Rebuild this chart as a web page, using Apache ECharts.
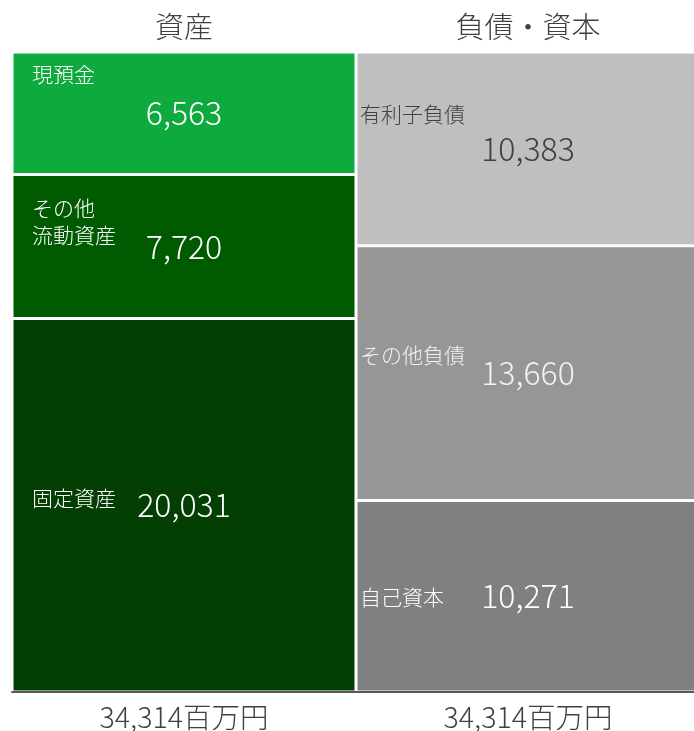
<!DOCTYPE html>
<html>
<head>
<meta charset="utf-8">
<script src="https://cdn.jsdelivr.net/npm/echarts@6/dist/echarts.min.js"></script>
<style>html,body{margin:0;padding:0;background:#fff}#c{width:694px;height:731px}</style>
</head>
<body>
<div id="c"></div>
<script>
// ---- data ----
const columns = ['資産', '負債・資本'];
const totalLabels = ['34,314百万円', '34,314百万円'];
const total = 34314;
// segments from bottom to top: [資産側, 負債・資本側]
const segNames = [
  ['固定資産', '自己資本'],
  ['その他\n流動資産', 'その他負債'],
  ['現預金', '有利子負債']
];
const segValues = [
  [20031, 10271],
  [7720, 13660],
  [6563, 10383]
];

// ---- styles (not data) ----
const segColors = [
  ['#033F03', '#808080'],
  ['#005A00', '#969696'],
  ['#0EAA3E', '#BFBFBF']
];
const textColors = [
  ['#FFFFFF', '#FFFFFF'],
  ['#FFFFFF', '#F2F2F2'],
  ['#FFFFFF', '#404040']
];
const nameOffsets = [
  [[20, -7], [4, 1]],
  [[20, -25], [4, -18]],
  [[20, -39], [4, -35]]
];
const FONT = '"Noto Sans CJK JP", "Noto Sans", sans-serif';

const fmt = v => v.toLocaleString('en-US');

const series = [];
segValues.forEach((vals, i) => {
  series.push({
    type: 'bar', stack: 'v', barWidth: '100%', barGap: '-100%', barCategoryGap: 0,
    data: vals.map((v, j) => ({
      value: v,
      itemStyle: { color: segColors[i][j], borderColor: '#fff', borderWidth: 1.5 },
      label: { color: textColors[i][j] }
    })),
    label: {
      show: true, position: 'inside', fontFamily: FONT, fontSize: 32, fontWeight: 300,
      formatter: p => fmt(p.value)
    },
    z: 2
  });
});
segValues.forEach((vals, i) => {
  series.push({
    type: 'bar', stack: 'n', barWidth: '100%', barGap: '-100%', barCategoryGap: 0,
    silent: true,
    data: vals.map((v, j) => ({
      value: v,
      name: segNames[i][j],
      itemStyle: { color: 'rgba(0,0,0,0)' },
      label: { color: textColors[i][j], offset: nameOffsets[i][j] }
    })),
    label: {
      show: true, position: 'insideLeft', distance: 0, align: 'left',
      fontFamily: FONT, fontSize: 21, fontWeight: 300, lineHeight: 27,
      formatter: p => segNames[i][p.dataIndex]
    },
    z: 3
  });
});

const chart = echarts.init(document.getElementById('c'));
chart.setOption({
  animation: false,
  backgroundColor: '#fff',
  grid: { left: 12, width: 688, top: 52, bottom: 39, outerBoundsMode: 'none', containLabel: false },
  xAxis: [
    {
      type: 'category', position: 'top', data: columns,
      axisLine: { show: false }, axisTick: { show: false },
      axisLabel: { fontFamily: FONT, fontSize: 29, fontWeight: 300, color: '#404040', margin: 11 }
    },
    {
      type: 'category', position: 'bottom', data: totalLabels, z: 10,
      axisLine: { show: true, lineStyle: { color: '#595959', width: 2 } },
      axisTick: { show: false },
      axisLabel: { fontFamily: FONT, fontSize: 28.5, fontWeight: 300, color: '#404040', margin: 11 }
    }
  ],
  yAxis: { type: 'value', min: 0, max: total, show: false },
  series: series
});
</script>
</body>
</html>
